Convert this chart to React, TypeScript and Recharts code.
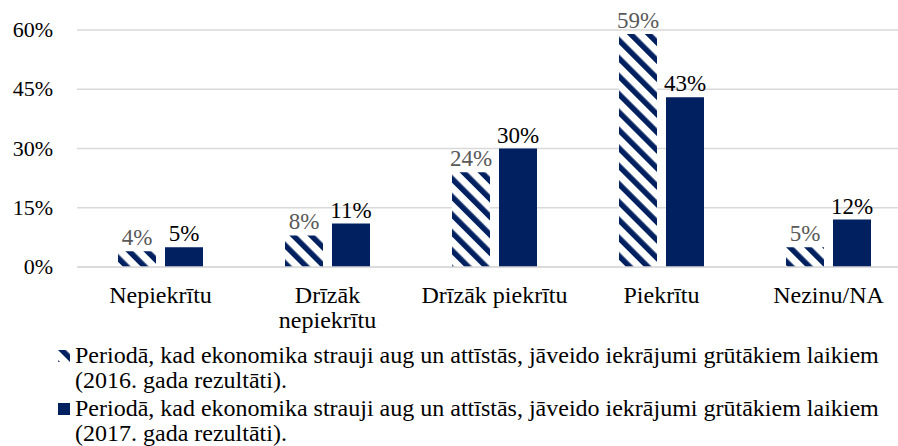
import React from "react";
import { BarChart, Bar, XAxis, YAxis, CartesianGrid, LabelList } from "recharts";

const categories = ["Nepiekrītu", "Drīzāk nepiekrītu", "Drīzāk piekrītu", "Piekrītu", "Nezinu/NA"];
const tickLines = [["Nepiekrītu"], ["Drīzāk", "nepiekrītu"], ["Drīzāk piekrītu"], ["Piekrītu"], ["Nezinu/NA"]];
const values2016 = [4, 8, 24, 59, 5];
const values2017 = [5, 11, 30, 43, 12];
const yTicks = [0, 15, 30, 45, 60];
const legendLabels = [
  "Periodā, kad ekonomika strauji aug un attīstās, jāveido iekrājumi grūtākiem laikiem (2016. gada rezultāti).",
  "Periodā, kad ekonomika strauji aug un attīstās, jāveido iekrājumi grūtākiem laikiem (2017. gada rezultāti).",
];

const data = categories.map((name, i) => ({
  name,
  lines: tickLines[i],
  y2016: values2016[i],
  y2017: values2017[i],
}));

const NAVY = "#002060";
const FONT = "Liberation Serif, Times New Roman, serif";
const PLOT_BOTTOM = 267;

function StripeDefs({ id }: { id: string }) {
  return (
    <defs>
      <pattern id={id} patternUnits="userSpaceOnUse" width="12.7" height="12.7" patternTransform="rotate(-45)">
        <rect width="12.7" height="12.7" fill="#fff" />
        <rect x="0" y="0" width="5.5" height="12.7" fill={NAVY} />
      </pattern>
    </defs>
  );
}

const XTick = (props: any) => {
  const { x, index } = props;
  const lines: string[] = data[index]?.lines ?? [props.payload.value];
  return (
    <text x={x} y={PLOT_BOTTOM + 36} textAnchor="middle" style={{ fontFamily: FONT, fontSize: 24 }} fill="#000">
      {lines.map((l, i) => (
        <tspan key={i} x={x} dy={i === 0 ? 0 : 25}>
          {l}
        </tspan>
      ))}
    </text>
  );
};

const YTick = (props: any) => {
  const { y, payload } = props;
  return (
    <text x={53} y={y} dy={7} textAnchor="end" style={{ fontFamily: FONT, fontSize: 22, fontWeight: 400 }} fill="#000">
      {`${payload.value}%`}
    </text>
  );
};

const makeLabel = (color: string) => (props: any) => {
  const { x, y, width, value } = props;
  return (
    <text
      x={x + width / 2}
      y={y - 6}
      textAnchor="middle"
      style={{ fontFamily: FONT, fontSize: 23, fontWeight: 400 }}
      fill={color}
    >
      {`${value}%`}
    </text>
  );
};

export default function App() {
  return (
    <div style={{ position: "absolute", left: 0, top: 0, width: 898, height: 446, overflow: "hidden", background: "#fff" }}>
      <BarChart
        width={912}
        height={446}
        data={data}
        margin={{ top: 30, right: 0, bottom: 119, left: 0 }}
        barSize={38}
        barGap={9}
      >
        <StripeDefs id="stripes2016" />
        <CartesianGrid vertical={false} stroke="#d9d9d9" strokeWidth={1.5} />
        <XAxis
          dataKey="name"
          height={60}
          axisLine={{ stroke: "#d9d9d9", strokeWidth: 1.5 }}
          tickLine={false}
          interval={0}
          tick={<XTick />}
        />
        <YAxis
          width={77}
          domain={[0, 60]}
          ticks={yTicks}
          axisLine={false}
          tickLine={false}
          tick={<YTick />}
        />
        <Bar dataKey="y2016" fill="url(#stripes2016)" isAnimationActive={false}>
          <LabelList dataKey="y2016" content={makeLabel("#595959")} />
        </Bar>
        <Bar dataKey="y2017" fill={NAVY} isAnimationActive={false}>
          <LabelList dataKey="y2017" content={makeLabel("#000")} />
        </Bar>
      </BarChart>
      <div style={{ position: "absolute", left: 0, top: 343, fontFamily: FONT, fontSize: 24, lineHeight: "25px", color: "#000" }}>
        {legendLabels.map((label, i) => (
          <div key={i} style={{ position: "relative", paddingLeft: 75, width: 830, marginBottom: 3 }}>
            <svg width={12} height={12} style={{ position: "absolute", left: 58, top: 7 }}>
              {i === 0 && <StripeDefs id="stripesLegend" />}
              <rect width={12} height={12} fill={i === 0 ? "url(#stripesLegend)" : NAVY} />
            </svg>
            {label}
          </div>
        ))}
      </div>
    </div>
  );
}
